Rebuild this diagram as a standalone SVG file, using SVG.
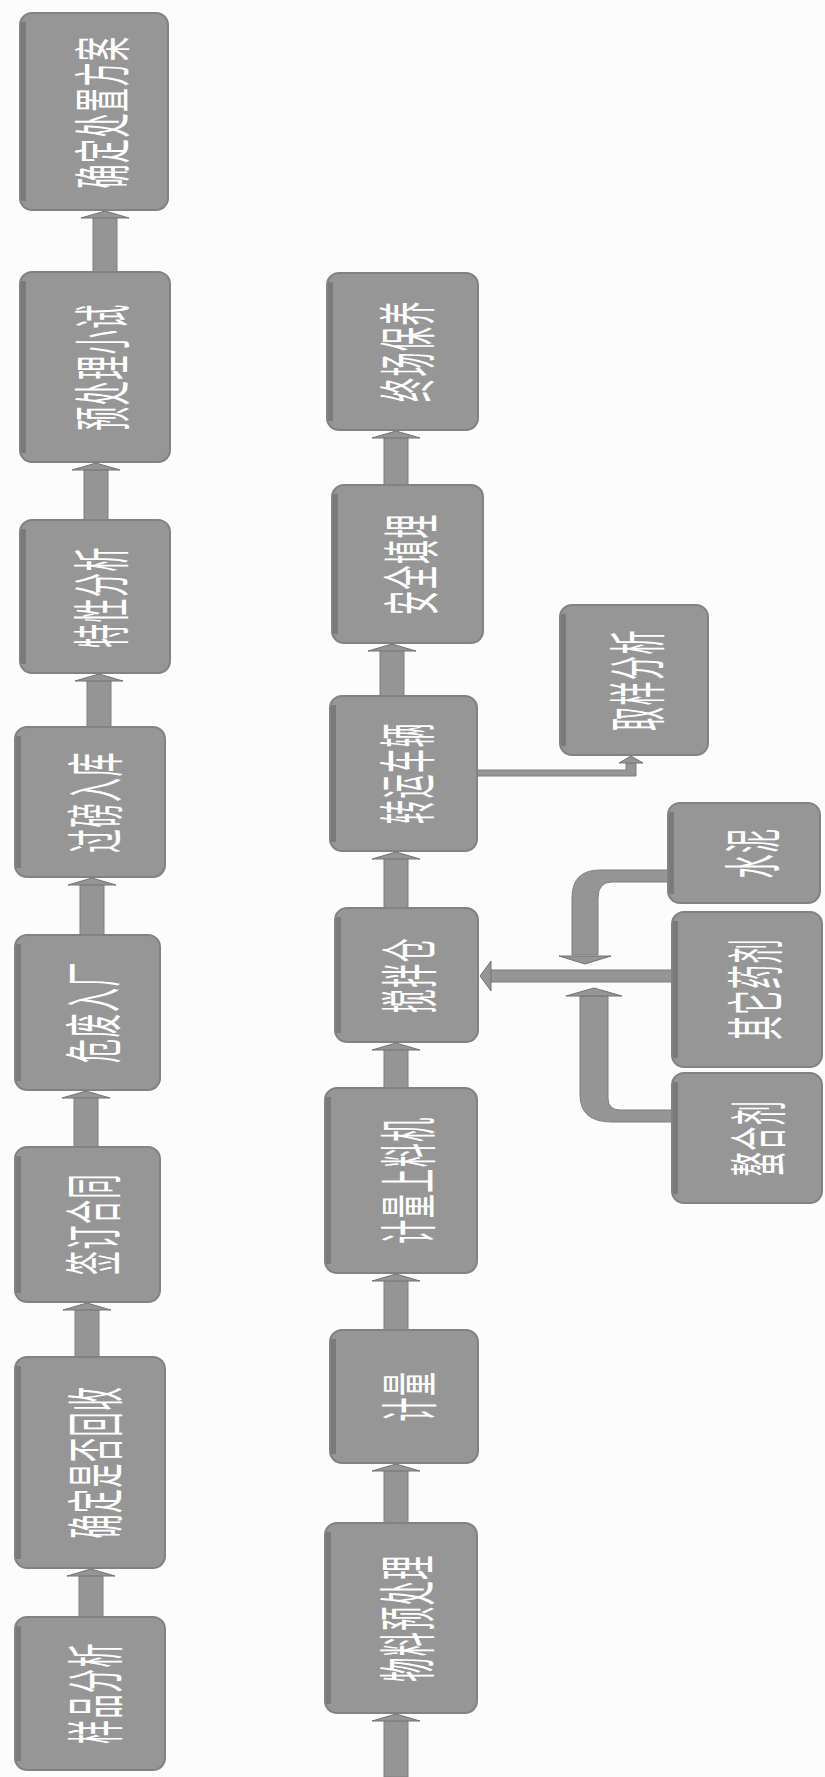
<svg xmlns="http://www.w3.org/2000/svg" width="825" height="1777" viewBox="0 0 825 1777">
<defs>
<style>
.box{fill:#969696;stroke:#828282;stroke-width:2}
.edge{fill:#7a7a7a}
.t{font-family:"Noto Sans CJK SC","Noto Sans CJK JP",sans-serif;font-size:24px;font-weight:normal;fill:#ffffff;text-anchor:middle;dominant-baseline:central;letter-spacing:1.5px}
.bar{fill:#959595;stroke:#7e7e7e;stroke-width:1}
.head{fill:#959595;stroke:#737373;stroke-width:1}
</style>
</defs>
<rect x="0" y="0" width="825" height="1777" fill="#fcfcfc"/>

<g id="connectors">
<rect class="bar" x="93" y="216" width="24" height="56"/><polygon class="head" points="81,218 105,211 129,218"/>
<rect class="bar" x="84" y="468" width="24" height="52"/><polygon class="head" points="72,470 96,463 120,470"/>
<rect class="bar" x="87" y="679" width="24" height="48"/><polygon class="head" points="75,681 99,674 123,681"/>
<rect class="bar" x="80" y="883" width="24" height="52"/><polygon class="head" points="68,885 92,878 116,885"/>
<rect class="bar" x="74" y="1096" width="24" height="51"/><polygon class="head" points="62,1098 86,1091 110,1098"/>
<rect class="bar" x="75" y="1308" width="24" height="49"/><polygon class="head" points="63,1310 87,1303 111,1310"/>
<rect class="bar" x="79" y="1574" width="24" height="43"/><polygon class="head" points="67,1576 91,1569 115,1576"/>
<rect class="bar" x="384" y="436" width="24" height="49"/><polygon class="head" points="372,438 396,431 420,438"/>
<rect class="bar" x="380" y="649" width="24" height="47"/><polygon class="head" points="368,651 392,644 416,651"/>
<rect class="bar" x="384" y="857" width="24" height="51"/><polygon class="head" points="372,859 396,852 420,859"/>
<rect class="bar" x="384" y="1048" width="24" height="40"/><polygon class="head" points="372,1050 396,1043 420,1050"/>
<rect class="bar" x="384" y="1279" width="24" height="51"/><polygon class="head" points="372,1281 396,1274 420,1281"/>
<rect class="bar" x="384" y="1469" width="24" height="54"/><polygon class="head" points="372,1471 396,1464 420,1471"/>
<rect class="bar" x="384" y="1719" width="24" height="58"/><polygon class="head" points="372,1721 396,1714 420,1721"/>
<path class="bar" d="M477,770 L626,770 L626,762 L636,762 L636,776 L477,776 Z"/>
<polygon class="head" points="619,763 631,756 643,763"/>
<rect class="bar" x="490" y="970" width="182" height="12"/>
<polygon class="head" points="491,961 480,976 491,991"/>
<path class="bar" d="M668,870 L600,870 Q572,870 572,898 L572,955 L598,955 L598,898 Q598,882 612,882 L668,882 Z"/>
<polygon class="head" points="559,956 585,964 611,956"/>
<path class="bar" d="M672,1122 L612,1122 Q580,1122 580,1095 L580,996 L608,996 L608,1098 Q608,1110 620,1110 L672,1110 Z"/>
<polygon class="head" points="566,996 594,988 622,996"/>
</g>

<g id="L1"><rect class="box" x="20" y="13" width="148" height="197" rx="12"/><rect class="edge" x="21" y="22" width="5" height="179"/><text class="t" transform="translate(99,112) rotate(-90) scale(1,2.4)">确定处置方案</text></g>
<g id="L2"><rect class="box" x="20" y="272" width="150" height="190" rx="12"/><rect class="edge" x="21" y="281" width="5" height="172"/><text class="t" transform="translate(99,367) rotate(-90) scale(1,2.4)">预处理小试</text></g>
<g id="L3"><rect class="box" x="20" y="520" width="150" height="153" rx="12"/><rect class="edge" x="21" y="529" width="5" height="135"/><text class="t" transform="translate(98,597) rotate(-90) scale(1,2.4)">特性分析</text></g>
<g id="L4"><rect class="box" x="15" y="727" width="150" height="150" rx="12"/><rect class="edge" x="16" y="736" width="5" height="132"/><text class="t" transform="translate(92,802) rotate(-90) scale(1,2.4)">过磅入库</text></g>
<g id="L5"><rect class="box" x="15" y="935" width="145" height="155" rx="12"/><rect class="edge" x="16" y="944" width="5" height="137"/><text class="t" transform="translate(90,1012) rotate(-90) scale(1,2.4)">危废入厂</text></g>
<g id="L6"><rect class="box" x="15" y="1147" width="145" height="155" rx="12"/><rect class="edge" x="16" y="1156" width="5" height="137"/><text class="t" transform="translate(90,1224) rotate(-90) scale(1,2.4)">签订合同</text></g>
<g id="L7"><rect class="box" x="15" y="1357" width="150" height="211" rx="12"/><rect class="edge" x="16" y="1366" width="5" height="193"/><text class="t" transform="translate(92,1462) rotate(-90) scale(1,2.4)">确定是否回收</text></g>
<g id="L8"><rect class="box" x="15" y="1617" width="150" height="153" rx="12"/><rect class="edge" x="16" y="1626" width="5" height="135"/><text class="t" transform="translate(92,1693) rotate(-90) scale(1,2.4)">样品分析</text></g>

<g id="R7"><rect class="box" x="327" y="273" width="151" height="157" rx="12"/><rect class="edge" x="328" y="282" width="5" height="139"/><text class="t" transform="translate(404,351) rotate(-90) scale(1,2.4)">终场保养</text></g>
<g id="R6"><rect class="box" x="332" y="485" width="151" height="158" rx="12"/><rect class="edge" x="333" y="494" width="5" height="140"/><text class="t" transform="translate(408,564) rotate(-90) scale(1,2.4)">安全填埋</text></g>
<g id="R5"><rect class="box" x="330" y="696" width="147" height="155" rx="12"/><rect class="edge" x="331" y="705" width="5" height="137"/><text class="t" transform="translate(404,773) rotate(-90) scale(1,2.4)">转运车辆</text></g>
<g id="R4"><rect class="box" x="335" y="908" width="143" height="134" rx="12"/><rect class="edge" x="336" y="917" width="5" height="116"/><text class="t" transform="translate(406,975) rotate(-90) scale(1,2.4)">搅拌仓</text></g>
<g id="R3"><rect class="box" x="325" y="1088" width="152" height="185" rx="12"/><rect class="edge" x="326" y="1097" width="5" height="167"/><text class="t" transform="translate(405,1180) rotate(-90) scale(1,2.4)">计量上料机</text></g>
<g id="R2"><rect class="box" x="330" y="1330" width="148" height="133" rx="12"/><rect class="edge" x="331" y="1339" width="5" height="115"/><text class="t" transform="translate(406,1396) rotate(-90) scale(1,2.4)">计量</text></g>
<g id="R1"><rect class="box" x="325" y="1523" width="152" height="190" rx="12"/><rect class="edge" x="326" y="1532" width="5" height="172"/><text class="t" transform="translate(404,1618) rotate(-90) scale(1,2.4)">物料预处理</text></g>

<g id="S1"><rect class="box" x="560" y="605" width="148" height="150" rx="12"/><rect class="edge" x="561" y="614" width="5" height="132"/><text class="t" transform="translate(634,680) rotate(-90) scale(1,2.4)">取样分析</text></g>
<g id="S2"><rect class="box" x="668" y="803" width="152" height="100" rx="12"/><rect class="edge" x="669" y="812" width="5" height="82"/><text class="t" transform="translate(749,853) rotate(-90) scale(1,2.4)">水泥</text></g>
<g id="S3"><rect class="box" x="672" y="912" width="150" height="155" rx="12"/><rect class="edge" x="673" y="921" width="5" height="137"/><text class="t" transform="translate(752,989) rotate(-90) scale(1,2.4)">其它药剂</text></g>
<g id="S4"><rect class="box" x="672" y="1073" width="150" height="130" rx="12"/><rect class="edge" x="673" y="1082" width="5" height="112"/><text class="t" transform="translate(755,1138) rotate(-90) scale(1,2.4)">螯合剂</text></g>
</svg>
